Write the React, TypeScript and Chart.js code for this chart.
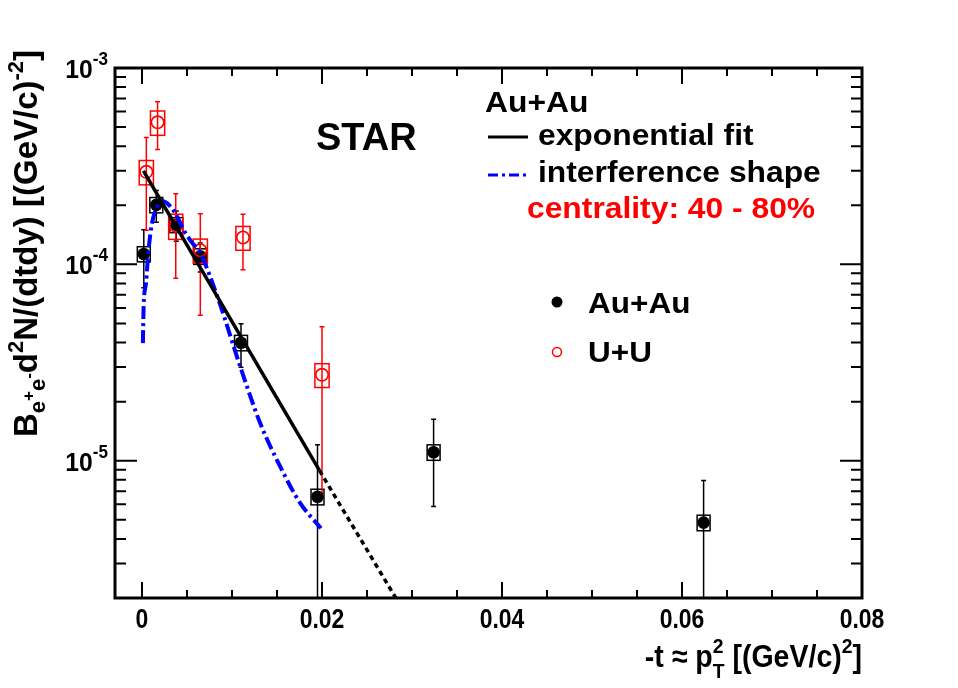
import React, { useEffect, useRef } from "react";
import { Chart, registerables } from "chart.js";
Chart.register(...registerables);

// ---- data ----
const auX = [0.0002, 0.00159, 0.00381, 0.00647, 0.011, 0.0195, 0.0324, 0.0624];
const auY = [1.13e-4, 2.01e-4, 1.59e-4, 1.1e-4, 3.99e-5, 6.56e-6, 1.105e-5, 4.84e-6];
const auErr = [0.37e-4, 0.37e-4, 0.28e-4, 0.185e-4, 1.0e-5, 5.5e-6, 5.2e-6, 3.1e-6];
const auSys = [1.0e-5, 1.8e-5, 1.4e-5, 1.0e-5, 3.6e-6, 6.0e-7, 1.0e-6, 4.4e-7];

const uuX = [0.00048, 0.00173, 0.00375, 0.00648, 0.01122, 0.02];
const uuY = [2.96e-4, 5.29e-4, 1.57e-4, 1.18e-4, 1.37e-4, 2.74e-5];
const uuErr = [1.47e-4, 1.44e-4, 0.72e-4, 0.63e-4, 0.43e-4, 2.07e-5];
const uuSys = [0.42e-4, 0.75e-4, 0.23e-4, 0.165e-4, 0.19e-4, 0.38e-5];

const fitX = [0.00016, 0.01973];
const fitY = [2.99e-4, 8.9e-6];
const extX = [0.01973, 0.0282];
const extY = [8.9e-6, 2.0e-6];

const intX = [0.0001, 0.00018, 0.00044, 0.00073, 0.00111, 0.00167, 0.00203, 0.00278, 0.0037, 0.00462, 0.00545, 0.00647, 0.0085, 0.01092, 0.01314, 0.01536, 0.01758, 0.01988];
const intY = [3.97e-5, 6.09e-5, 8.01e-5, 1.184e-4, 1.62e-4, 1.967e-4, 2.11e-4, 2.05e-4, 1.82e-4, 1.497e-4, 1.31e-4, 1.14e-4, 6.59e-5, 3.01e-5, 1.55e-5, 9.33e-6, 6.08e-6, 4.53e-6];

const xMajorTicks = [0, 0.02, 0.04, 0.06, 0.08];
const xTickLabels = ["0", "0.02", "0.04", "0.06", "0.08"];
const yMajorTicks = [1e-5, 1e-4, 1e-3];
const yTickExponents = ["-5", "-4", "-3"];

const X_MIN = -0.003;
const X_MAX = 0.08;
const Y_MIN = 2e-6;
const Y_MAX = 1e-3;

const FAM = '"Liberation Sans", Arial, Helvetica, sans-serif';
const RED = "#ff0000";
const BLUE = "#0000ff";

type Seg = { t: string; size: number; dy?: number; under?: string; underDy?: number };

function font(size: number) {
  return `bold ${size}px ${FAM}`;
}

function richWidth(ctx: CanvasRenderingContext2D, segs: Seg[]) {
  let w = 0;
  for (const s of segs) {
    ctx.font = font(s.size);
    let sw = ctx.measureText(s.t).width;
    if (s.under) sw = Math.max(sw, ctx.measureText(s.under).width);
    w += sw;
  }
  return w;
}

function drawRich(
  ctx: CanvasRenderingContext2D,
  segs: Seg[],
  x: number,
  y: number,
  align: "left" | "right" | "center",
  sx = 1
) {
  ctx.save();
  ctx.translate(x, y);
  ctx.scale(sx, 1);
  const w = richWidth(ctx, segs);
  let cx = align === "left" ? 0 : align === "right" ? -w : -w / 2;
  ctx.textAlign = "left";
  ctx.textBaseline = "alphabetic";
  for (const s of segs) {
    ctx.font = font(s.size);
    ctx.fillText(s.t, cx, s.dy || 0);
    let sw = ctx.measureText(s.t).width;
    if (s.under) {
      ctx.fillText(s.under, cx, s.underDy || 0);
      sw = Math.max(sw, ctx.measureText(s.under).width);
    }
    cx += sw;
  }
  ctx.restore();
}

const decorPlugin = {
  id: "decor",
  beforeDatasetsDraw(chart: any) {
    const ctx: CanvasRenderingContext2D = chart.ctx;
    const xs = chart.scales.x;
    const ys = chart.scales.y;
    const a = chart.chartArea;
    ctx.save();
    ctx.beginPath();
    ctx.rect(a.left, a.top, a.right - a.left, a.bottom - a.top);
    ctx.clip();
    const drawSet = (X: number[], Y: number[], E: number[], S: number[], color: string, halfW: number) => {
      ctx.strokeStyle = color;
      ctx.lineWidth = 1.5;
      for (let i = 0; i < X.length; i++) {
        const px = xs.getPixelForValue(X[i]);
        const top = ys.getPixelForValue(Y[i] + E[i]);
        const lowV = Y[i] - E[i];
        const bot = lowV > 0 ? ys.getPixelForValue(lowV) : a.bottom + 5;
        ctx.beginPath();
        ctx.moveTo(px, top);
        ctx.lineTo(px, bot);
        ctx.moveTo(px - 2.5, top);
        ctx.lineTo(px + 2.5, top);
        if (lowV > 0) {
          ctx.moveTo(px - 2.5, bot);
          ctx.lineTo(px + 2.5, bot);
        }
        ctx.stroke();
        const bl = xs.getPixelForValue(X[i] - halfW);
        const br = xs.getPixelForValue(X[i] + halfW);
        const bt = ys.getPixelForValue(Y[i] + S[i]);
        const bb = ys.getPixelForValue(Y[i] - S[i]);
        ctx.strokeRect(bl, bt, br - bl, bb - bt);
      }
    };
    drawSet(auX, auY, auErr, auSys, "#000000", 0.00072);
    drawSet(uuX, uuY, uuErr, uuSys, RED, 0.00079);
    ctx.restore();
  },
  afterDraw(chart: any) {
    const ctx: CanvasRenderingContext2D = chart.ctx;
    const xs = chart.scales.x;
    const ys = chart.scales.y;
    const a = chart.chartArea;
    ctx.save();
    ctx.strokeStyle = "#000";
    ctx.fillStyle = "#000";
    // ticks
    ctx.lineWidth = 2;
    ctx.beginPath();
    for (let k = 0; k <= 16; k++) {
      const v = k * 0.005;
      const px = xs.getPixelForValue(v);
      const len = k % 4 === 0 ? 16 : 8;
      ctx.moveTo(px, a.bottom);
      ctx.lineTo(px, a.bottom - len);
      ctx.moveTo(px, a.top);
      ctx.lineTo(px, a.top + len);
    }
    for (let e = -6; e <= -4; e++) {
      for (let m = 1; m <= 9; m++) {
        const v = m * Math.pow(10, e);
        if (v < Y_MIN * 0.999 || v > Y_MAX * 1.001) continue;
        const py = ys.getPixelForValue(v);
        const len = m === 1 ? 22 : 11;
        ctx.moveTo(a.left, py);
        ctx.lineTo(a.left + len, py);
        ctx.moveTo(a.right, py);
        ctx.lineTo(a.right - len, py);
      }
    }
    {
      const py = ys.getPixelForValue(1e-3);
      ctx.moveTo(a.left, py);
      ctx.lineTo(a.left + 22, py);
    }
    ctx.stroke();
    // frame
    ctx.lineWidth = 3;
    ctx.strokeRect(a.left, a.top, a.right - a.left, a.bottom - a.top);

    // x tick labels
    xMajorTicks.forEach((v, i) => {
      drawRich(ctx, [{ t: xTickLabels[i], size: 28 }], xs.getPixelForValue(v), 628, "center", 0.82);
    });
    // y tick labels
    yMajorTicks.forEach((v, i) => {
      const py = ys.getPixelForValue(v);
      drawRich(
        ctx,
        [
          { t: "10", size: 26 },
          { t: yTickExponents[i], size: 18, dy: -13 },
        ],
        108,
        py + 10,
        "right",
        0.95
      );
    });
    // x title
    drawRich(
      ctx,
      [
        { t: "-t \u2248 p", size: 31 },
        { t: "2", size: 21, dy: -14, under: "T", underDy: 11 },
        { t: " [(GeV/c)", size: 31 },
        { t: "2", size: 21, dy: -14 },
        { t: "]", size: 31 },
      ],
      862,
      667,
      "right",
      0.92
    );
    // y title
    ctx.save();
    ctx.translate(37, 243.5);
    ctx.rotate(-Math.PI / 2);
    drawRich(
      ctx,
      [
        { t: "B", size: 33 },
        { t: "e", size: 22, dy: 8 },
        { t: "+", size: 17, dy: -3 },
        { t: "e", size: 22, dy: 8 },
        { t: "-", size: 17, dy: -3 },
        { t: "d", size: 33 },
        { t: "2", size: 22, dy: -14 },
        { t: "N/(dtdy) [(GeV/c)", size: 33 },
        { t: "-2", size: 22, dy: -14 },
        { t: "]", size: 33 },
      ],
      0,
      0,
      "center",
      1.0
    );
    ctx.restore();

    // annotations
    drawRich(ctx, [{ t: "STAR", size: 38 }], 316, 150, "left");
    drawRich(ctx, [{ t: "Au+Au", size: 30 }], 485, 112, "left", 1.06);
    drawRich(ctx, [{ t: "exponential fit", size: 30 }], 538, 145, "left", 1.06);
    drawRich(ctx, [{ t: "interference shape", size: 30 }], 538, 182, "left", 1.06);
    ctx.fillStyle = RED;
    drawRich(ctx, [{ t: "centrality: 40 - 80%", size: 30 }], 527, 218, "left", 1.06);
    ctx.fillStyle = "#000";
    // legend line samples
    ctx.lineWidth = 3;
    ctx.setLineDash([]);
    ctx.beginPath();
    ctx.moveTo(488, 137);
    ctx.lineTo(528, 137);
    ctx.stroke();
    ctx.strokeStyle = BLUE;
    ctx.lineWidth = 3;
    ctx.setLineDash([10, 4, 3, 4]);
    ctx.beginPath();
    ctx.moveTo(488, 175);
    ctx.lineTo(528, 175);
    ctx.stroke();
    ctx.setLineDash([]);
    // marker legend
    ctx.fillStyle = "#000";
    ctx.beginPath();
    ctx.arc(557, 302, 5.5, 0, Math.PI * 2);
    ctx.fill();
    drawRich(ctx, [{ t: "Au+Au", size: 30 }], 588, 313, "left", 1.05);
    ctx.strokeStyle = RED;
    ctx.lineWidth = 1.5;
    ctx.beginPath();
    ctx.arc(557, 352, 4.5, 0, Math.PI * 2);
    ctx.stroke();
    ctx.fillStyle = "#000";
    drawRich(ctx, [{ t: "U+U", size: 30 }], 588, 362, "left", 1.05);
    ctx.restore();
  },
};

function pts(X: number[], Y: number[]) {
  return X.map((x, i) => ({ x, y: Y[i] }));
}

export default function App() {
  const ref = useRef<HTMLCanvasElement | null>(null);
  useEffect(() => {
    if (!ref.current) return;
    const chart = new Chart(ref.current, {
      type: "scatter",
      data: {
        datasets: [
          {
            label: "exponential fit",
            data: pts(fitX, fitY),
            showLine: true,
            borderColor: "#000",
            borderWidth: 3.5,
            pointRadius: 0,
            fill: false,
          },
          {
            label: "fit extrapolation",
            data: pts(extX, extY),
            showLine: true,
            borderColor: "#000",
            borderWidth: 3.5,
            borderDash: [5, 4],
            pointRadius: 0,
            fill: false,
          },
          {
            label: "interference shape",
            data: pts(intX, intY),
            showLine: true,
            borderColor: BLUE,
            borderWidth: 4,
            borderDash: [13, 4, 3, 4],
            pointRadius: 0,
            cubicInterpolationMode: "monotone",
            fill: false,
          },
          {
            label: "U+U",
            data: pts(uuX, uuY),
            pointRadius: 6.2,
            pointBorderWidth: 1.6,
            pointBorderColor: RED,
            pointBackgroundColor: "rgba(0,0,0,0)",
            showLine: false,
          },
          {
            label: "Au+Au",
            data: pts(auX, auY),
            pointRadius: 6.3,
            pointBorderWidth: 0,
            pointBackgroundColor: "#000",
            pointBorderColor: "#000",
            showLine: false,
          },
        ],
      } as any,
      options: {
        animation: false,
        responsive: false,
        layout: { padding: { left: 115, right: 96, top: 68, bottom: 90 } },
        plugins: { legend: { display: false }, tooltip: { enabled: false } },
        scales: {
          x: { type: "linear", min: X_MIN, max: X_MAX, display: false },
          y: { type: "logarithmic", min: Y_MIN, max: Y_MAX, display: false },
        },
      } as any,
      plugins: [decorPlugin],
    });
    return () => chart.destroy();
  }, []);
  return (
    <div style={{ position: "fixed", left: 0, top: 0, width: 958, height: 688, background: "#fff" }}>
      <canvas ref={ref} width={958} height={688} style={{ display: "block" }} />
    </div>
  );
}
